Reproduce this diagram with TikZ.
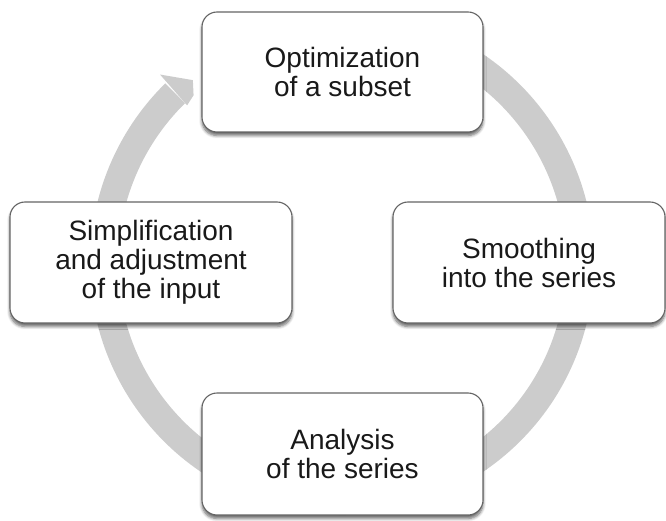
\documentclass[tikz,border=0pt]{standalone}
\usepackage{fontspec}
\setmainfont{Liberation Sans}
\usetikzlibrary{calc,shadows.blur}
\definecolor{ringgray}{RGB}{204,204,204}
\definecolor{boxline}{RGB}{100,100,100}
\tikzset{
  stagebox/.style={
    draw=boxline, line width=1.1pt, fill=white, rounded corners=15pt,
    align=center, inner sep=0pt, text=black!90,
    font=\fontsize{28}{29}\selectfont,
    blur shadow={shadow xshift=0pt, shadow yshift=-3.5pt,
      shadow blur steps=6, shadow opacity=60, shadow blur radius=3pt}
  },
  ringband/.style={draw=ringgray, line width=28pt},
  ringhead/.style={fill=ringgray}
}
\begin{document}
\begin{tikzpicture}[x=1pt,y=1pt]
  \useasboundingbox (0,0) rectangle (666,520);
  \coordinate (hub) at (342,257);

  % circular band running clockwise, tail tucked under the top box
  \draw[ringband] ($(hub)+(80:238)$) arc[start angle=80, end angle=-225.5, radius=238];
  % arrowhead at the upper left, pointing towards the top stage
  \fill[ringhead] ($(hub)+(134.5:221)$) -- ($(hub)+(134.0:262)$)
    -- ($(hub)+(129.2:236)$) -- ($(hub)+(131.5:224)$) -- cycle;

  \node[stagebox, minimum width=281pt, minimum height=120pt] (opt) at (342.5,448)
    {Optimization\\of a subset};
  \node[stagebox, minimum width=272pt, minimum height=121pt] (smooth) at (529,257.5)
    {Smoothing\\into the series};
  \node[stagebox, minimum width=281pt, minimum height=122pt] (anal) at (342.5,66)
    {Analysis\\of the series};
  \node[stagebox, minimum width=282pt, minimum height=121pt] (simp) at (151,257.5)
    {Simplification\\and adjustment\\of the input};
\end{tikzpicture}
\end{document}
